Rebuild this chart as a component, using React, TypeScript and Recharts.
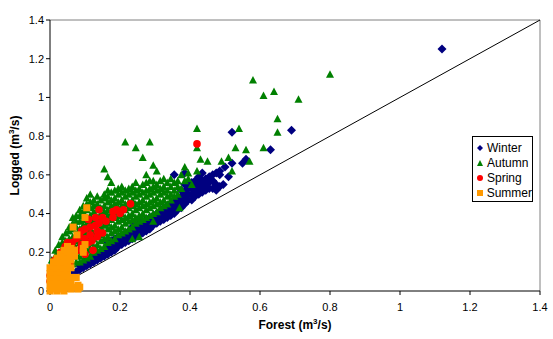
import React from "react";
import {
  ScatterChart,
  Scatter,
  XAxis,
  YAxis,
  ReferenceLine,
  Label,
} from "recharts";

const axisTicks = [0, 0.2, 0.4, 0.6, 0.8, 1, 1.2, 1.4];

// values read column by column: [forest flow, [logged flows...]]
const winterCols: [number, number[]][] = [
  [0.03, [0.05]], [0.045, [0.06]], [0.055, [0.07]], [0.065, [0.09]], [0.075, [0.1]],
  [0.085, [0.11, 0.13]], [0.095, [0.12, 0.14]], [0.105, [0.13, 0.16]], [0.115, [0.14, 0.17]],
  [0.125, [0.15, 0.18]], [0.135, [0.16, 0.19]], [0.145, [0.17, 0.2]], [0.155, [0.18, 0.21]],
  [0.165, [0.19, 0.22, 0.25]], [0.175, [0.2, 0.23, 0.26]], [0.185, [0.21, 0.24, 0.27]],
  [0.195, [0.23, 0.26, 0.28]], [0.205, [0.24, 0.27, 0.29]], [0.215, [0.25, 0.28, 0.3]],
  [0.225, [0.26, 0.29, 0.31]], [0.235, [0.27, 0.3, 0.33]], [0.245, [0.28, 0.31, 0.34]],
  [0.255, [0.29, 0.32, 0.35]], [0.265, [0.3, 0.33, 0.36]], [0.275, [0.31, 0.34, 0.37]],
  [0.285, [0.32, 0.35, 0.38]], [0.295, [0.34, 0.37, 0.39]], [0.305, [0.35, 0.38, 0.4]],
  [0.315, [0.36, 0.39, 0.41]], [0.325, [0.37, 0.4, 0.43]], [0.335, [0.38, 0.41, 0.44]],
  [0.345, [0.39, 0.42, 0.45]], [0.355, [0.4, 0.43, 0.46, 0.6]], [0.365, [0.42, 0.45, 0.48]],
  [0.375, [0.43, 0.46, 0.49, 0.52]], [0.385, [0.45, 0.48, 0.51, 0.55, 0.61]],
  [0.395, [0.47, 0.5, 0.53, 0.56]], [0.405, [0.47, 0.5, 0.53, 0.56]],
  [0.415, [0.49, 0.52, 0.55, 0.57]], [0.425, [0.5, 0.53, 0.56, 0.59]],
  [0.435, [0.51, 0.54, 0.57, 0.61]], [0.445, [0.52, 0.55, 0.58]], [0.455, [0.53, 0.56, 0.59]],
  [0.465, [0.53, 0.57, 0.6]], [0.475, [0.52, 0.55, 0.61]], [0.485, [0.54, 0.6, 0.62]],
  [0.495, [0.55]], [0.5, [0.64]], [0.51, [0.59]], [0.52, [0.66, 0.82]], [0.55, [0.66]],
  [0.56, [0.68]], [0.63, [0.73]], [0.69, [0.83]], [1.12, [1.25]],
];

const autumnCols: [number, number[]][] = [
  [0.005, [0.08, 0.12, 0.16]], [0.015, [0.1, 0.14, 0.18, 0.21]],
  [0.025, [0.1, 0.13, 0.17, 0.2, 0.24]], [0.035, [0.11, 0.15, 0.18, 0.22, 0.25, 0.28]],
  [0.045, [0.12, 0.16, 0.19, 0.23, 0.26, 0.3]], [0.055, [0.13, 0.17, 0.2, 0.24, 0.27, 0.31, 0.33]],
  [0.065, [0.14, 0.18, 0.21, 0.25, 0.28, 0.32, 0.35, 0.38]],
  [0.075, [0.15, 0.19, 0.22, 0.26, 0.29, 0.33, 0.36, 0.39]],
  [0.085, [0.15, 0.18, 0.22, 0.25, 0.29, 0.32, 0.36, 0.39, 0.42]],
  [0.095, [0.16, 0.2, 0.23, 0.27, 0.3, 0.34, 0.37, 0.41, 0.44]],
  [0.105, [0.17, 0.21, 0.24, 0.28, 0.31, 0.35, 0.38, 0.42, 0.45, 0.48]],
  [0.115, [0.18, 0.22, 0.25, 0.29, 0.32, 0.36, 0.39, 0.43, 0.46, 0.5]],
  [0.125, [0.2, 0.23, 0.27, 0.3, 0.34, 0.37, 0.41, 0.44, 0.47]],
  [0.135, [0.21, 0.24, 0.28, 0.31, 0.35, 0.38, 0.42, 0.45, 0.49]],
  [0.145, [0.22, 0.26, 0.29, 0.33, 0.36, 0.4, 0.43, 0.47]],
  [0.155, [0.23, 0.27, 0.3, 0.34, 0.37, 0.41, 0.44, 0.48, 0.5, 0.63]],
  [0.165, [0.25, 0.28, 0.32, 0.35, 0.39, 0.42, 0.46, 0.49, 0.52, 0.59]],
  [0.175, [0.26, 0.3, 0.33, 0.37, 0.4, 0.44, 0.47, 0.51, 0.56]],
  [0.185, [0.27, 0.31, 0.34, 0.38, 0.41, 0.45, 0.48, 0.52]],
  [0.195, [0.29, 0.32, 0.36, 0.39, 0.43, 0.46, 0.5, 0.53]],
  [0.205, [0.3, 0.33, 0.37, 0.4, 0.44, 0.47, 0.51, 0.54]],
  [0.215, [0.31, 0.35, 0.38, 0.42, 0.45, 0.49, 0.52, 0.77]],
  [0.225, [0.32, 0.36, 0.39, 0.43, 0.46, 0.5, 0.53]],
  [0.235, [0.27, 0.33, 0.37, 0.4, 0.44, 0.47, 0.51, 0.54]],
  [0.245, [0.35, 0.38, 0.42, 0.45, 0.49, 0.52, 0.56, 0.74]],
  [0.255, [0.28, 0.36, 0.39, 0.43, 0.46, 0.5, 0.53]],
  [0.265, [0.37, 0.4, 0.44, 0.47, 0.51, 0.55, 0.69]],
  [0.275, [0.38, 0.42, 0.45, 0.49, 0.52, 0.56, 0.6]],
  [0.285, [0.39, 0.43, 0.46, 0.5, 0.53, 0.57, 0.77]],
  [0.295, [0.36, 0.4, 0.44, 0.47, 0.51, 0.54, 0.57, 0.65]],
  [0.305, [0.41, 0.45, 0.48, 0.52, 0.55, 0.62]],
  [0.315, [0.43, 0.46, 0.5, 0.53, 0.57]], [0.325, [0.44, 0.47, 0.51, 0.54, 0.58]],
  [0.335, [0.45, 0.49, 0.52, 0.56]], [0.345, [0.47, 0.5, 0.54, 0.58]],
  [0.355, [0.49, 0.52, 0.56]], [0.365, [0.5, 0.54, 0.57]], [0.37, [0.43]],
  [0.375, [0.53, 0.6]], [0.385, [0.57, 0.64]], [0.395, [0.58, 0.61]], [0.405, [0.55]],
  [0.42, [0.62, 0.74, 0.84]], [0.43, [0.68]], [0.45, [0.67]], [0.49, [0.67]], [0.51, [0.69]],
  [0.52, [0.62]], [0.53, [0.74]], [0.54, [0.84]], [0.56, [0.73]], [0.57, [0.67]],
  [0.58, [1.09]], [0.61, [0.74, 1.01]], [0.64, [1.03]], [0.65, [0.82, 0.89]], [0.71, [0.99]],
  [0.8, [1.12]],
];

const springCols: [number, number[]][] = [
  [0.0, [0.05, 0.08]], [0.014, [0.16]], [0.03, [0.2]], [0.043, [0.23]],
  [0.05, [0.25]], [0.057, [0.15, 0.19]], [0.063, [0.22, 0.25]], [0.075, [0.27]],
  [0.08, [0.21]], [0.085, [0.28]], [0.09, [0.24, 0.31]], [0.1, [0.19, 0.27, 0.32]],
  [0.11, [0.25, 0.37]], [0.115, [0.29, 0.33]], [0.12, [0.26]], [0.123, [0.21]],
  [0.13, [0.34, 0.38]], [0.135, [0.28, 0.31]], [0.14, [0.35, 0.42]], [0.15, [0.3, 0.38]],
  [0.16, [0.36]], [0.18, [0.38, 0.41]], [0.19, [0.42]], [0.2, [0.4]], [0.21, [0.42]],
  [0.23, [0.45]], [0.42, [0.76]],
];

const summerCols: [number, number[]][] = [
  [0.0, [0.0, 0.03, 0.06, 0.09, 0.12]], [0.01, [0.01, 0.04, 0.07, 0.1, 0.13, 0.15]],
  [0.02, [0.0, 0.03, 0.06, 0.09, 0.12, 0.15, 0.17]], [0.03, [0.01, 0.04, 0.07, 0.1, 0.13, 0.16, 0.19]],
  [0.04, [0.0, 0.03, 0.06, 0.09, 0.12, 0.15, 0.18, 0.21]],
  [0.05, [0.02, 0.05, 0.08, 0.11, 0.14, 0.17, 0.2, 0.23]],
  [0.06, [0.01, 0.04, 0.07, 0.12, 0.16, 0.19, 0.22]], [0.066, [0.33]],
  [0.07, [0.02, 0.07, 0.18, 0.21]], [0.075, [0.07]], [0.077, [0.29]], [0.08, [0.01, 0.03]],
  [0.085, [0.02]], [0.095, [0.2, 0.22]], [0.1, [0.24, 0.38]], [0.105, [0.43]],
];

const toPoints = (cols: [number, number[]][]) =>
  cols.flatMap(([x, ys]) => ys.map((y) => ({ x, y })));

const Diamond = (p: any) => (
  <polygon
    points={`${p.cx},${p.cy - 4.5} ${p.cx + 4.5},${p.cy} ${p.cx},${p.cy + 4.5} ${p.cx - 4.5},${p.cy}`}
    fill="#000080"
  />
);
const Triangle = (p: any) => (
  <polygon
    points={`${p.cx},${p.cy - 4} ${p.cx + 4},${p.cy + 3.5} ${p.cx - 4},${p.cy + 3.5}`}
    fill="#008000"
  />
);
const Dot = (p: any) => <circle cx={p.cx} cy={p.cy} r={3.8} fill="#FF0000" />;
const Square = (p: any) => (
  <rect x={p.cx - 3.5} y={p.cy - 3.5} width={7} height={7} fill="#FF9900" />
);

const font = "Arial, 'Liberation Sans', sans-serif";

const legendItems = [
  { name: "Winter", mark: <polygon points="4,1 7,4 4,7 1,4" fill="#000080" /> },
  { name: "Autumn", mark: <polygon points="4,1 7,7 1,7" fill="#008000" /> },
  { name: "Spring", mark: <circle cx={4} cy={4} r={3} fill="#FF0000" /> },
  { name: "Summer", mark: <rect x={1} y={1} width={6} height={6} fill="#FF9900" /> },
];

export default function App() {
  return (
    <div style={{ position: "absolute", left: 0, top: 0, width: 553, height: 339, background: "#fff" }}>
      <ScatterChart width={553} height={339} margin={{ top: 20, right: 13, bottom: 0, left: 0 }}>
        <XAxis
          type="number"
          dataKey="x"
          domain={[0, 1.4]}
          ticks={axisTicks}
          height={48}
          stroke="#000"
          tickSize={4}
          tickMargin={8}
          tick={{ fill: "#000", fontSize: 11, fontFamily: font }}
          tickLine={{ stroke: "#000" }}
        >
          <Label
            content={(props: any) => {
              const vb = props.viewBox;
              return (
                <text
                  x={vb.x + vb.width / 2}
                  y={vb.y + 38}
                  textAnchor="middle"
                  fontFamily={font}
                  fontSize={12}
                  fontWeight="bold"
                  fill="#000"
                >
                  Forest (m<tspan dy={-5} fontSize={8}>3</tspan>
                  <tspan dy={5}>/s)</tspan>
                </text>
              );
            }}
          />
        </XAxis>
        <YAxis
          type="number"
          dataKey="y"
          domain={[0, 1.4]}
          ticks={axisTicks}
          width={50}
          stroke="#000"
          tickSize={4}
          tick={{ fill: "#000", fontSize: 11, fontFamily: font }}
          tickLine={{ stroke: "#000" }}
        >
          <Label
            content={(props: any) => {
              const vb = props.viewBox;
              const cx = 19;
              const cy = vb.y + vb.height / 2;
              return (
                <text
                  x={cx}
                  y={cy}
                  transform={`rotate(-90 ${cx} ${cy})`}
                  textAnchor="middle"
                  fontFamily={font}
                  fontSize={12}
                  fontWeight="bold"
                  fill="#000"
                >
                  Logged (m<tspan dy={-5} fontSize={8}>3</tspan>
                  <tspan dy={5}>/s)</tspan>
                </text>
              );
            }}
          />
        </YAxis>
        <ReferenceLine y={1.4} stroke="#808080" />
        <ReferenceLine x={1.4} stroke="#808080" />
        <ReferenceLine
          segment={[
            { x: 0, y: 0 },
            { x: 1.4, y: 1.4 },
          ]}
          stroke="#000"
          strokeWidth={1}
        />
        <Scatter name="Winter" data={toPoints(winterCols)} shape={Diamond} isAnimationActive={false} />
        <Scatter name="Autumn" data={toPoints(autumnCols)} shape={Triangle} isAnimationActive={false} />
        <Scatter name="Spring" data={toPoints(springCols)} shape={Dot} isAnimationActive={false} />
        <Scatter name="Summer" data={toPoints(summerCols)} shape={Square} isAnimationActive={false} />
      </ScatterChart>
      <div
        style={{
          position: "absolute",
          left: 472,
          top: 136,
          width: 61,
          height: 66,
          border: "1px solid #000",
          background: "#fff",
          fontFamily: font,
          fontSize: 12,
          padding: "3px 0 0 3px",
          boxSizing: "border-box",
        }}
      >
        {legendItems.map((it) => (
          <div key={it.name} style={{ display: "flex", alignItems: "center", height: 15 }}>
            <svg width={8} height={8} style={{ marginRight: 3 }}>
              {it.mark}
            </svg>
            <span>{it.name}</span>
          </div>
        ))}
      </div>
    </div>
  );
}
